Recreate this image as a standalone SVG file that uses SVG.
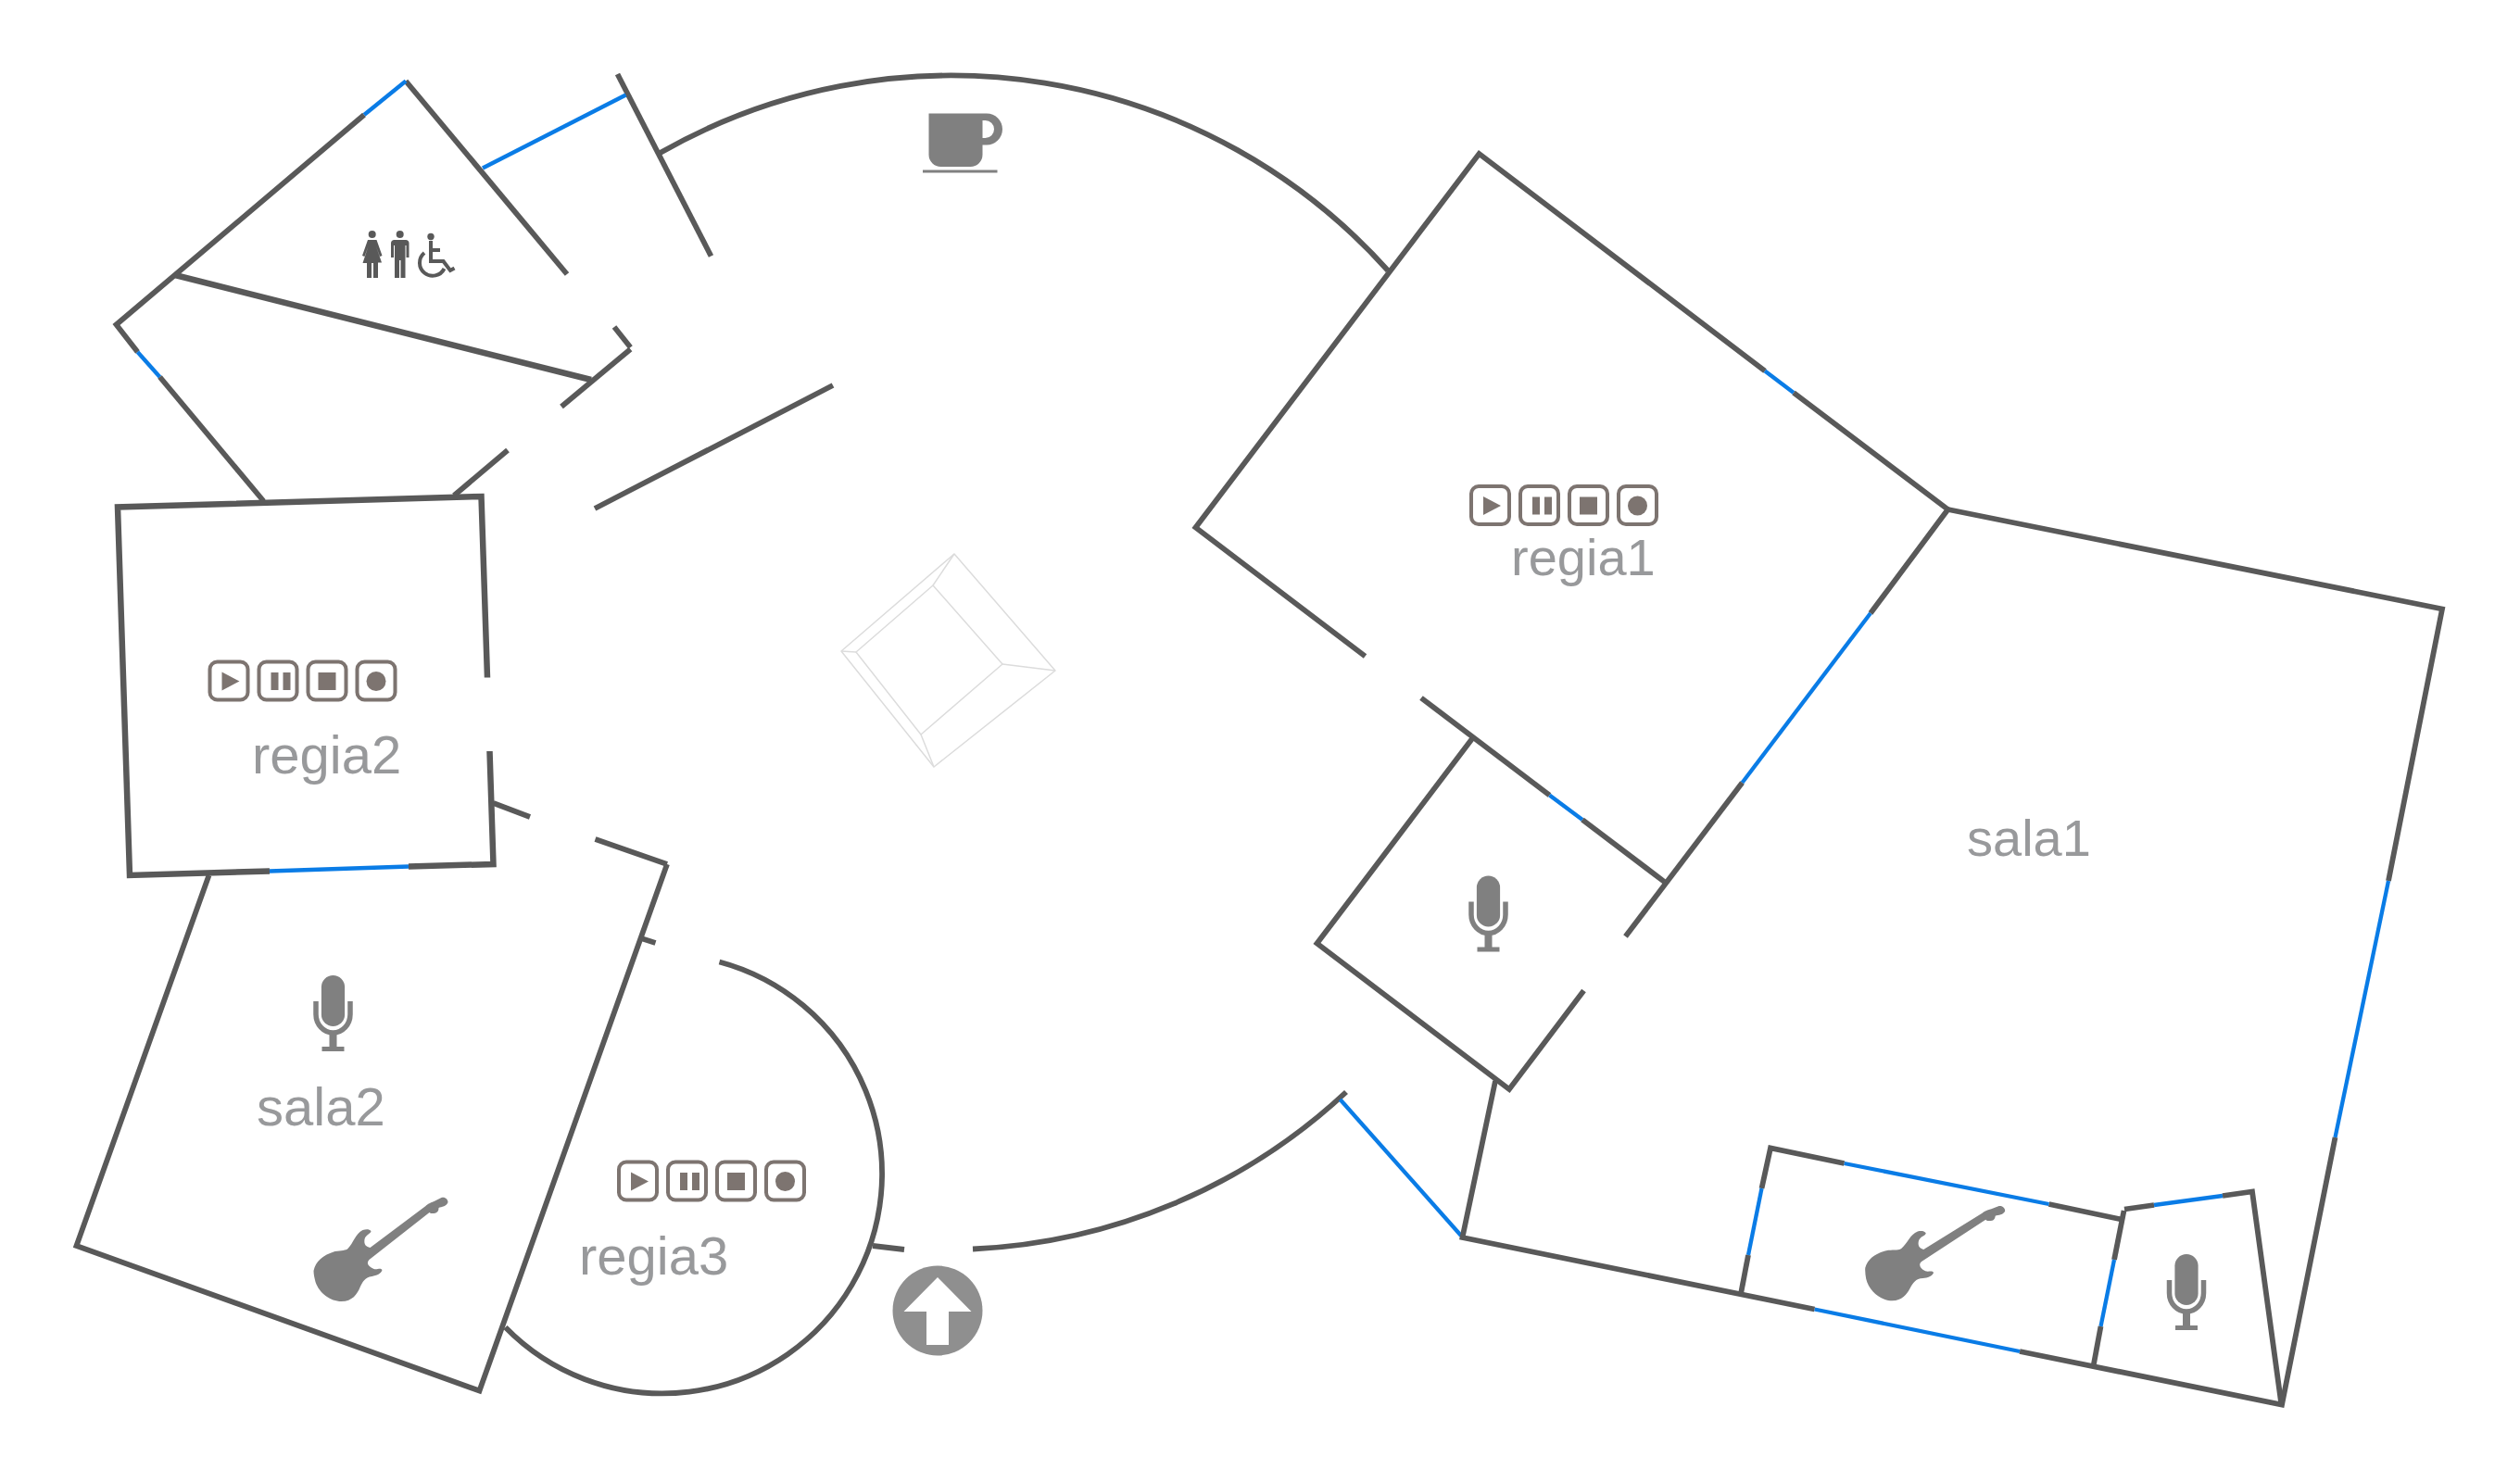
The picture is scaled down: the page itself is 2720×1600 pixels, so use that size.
<svg xmlns="http://www.w3.org/2000/svg" xmlns:xlink="http://www.w3.org/1999/xlink" width="2720" height="1600" viewBox="0 0 2720 1600">
<style>
.w{fill:none;stroke:#595959;stroke-width:5.800;stroke-linejoin:miter;stroke-linecap:butt}
.t{stroke-width:6.500}
.d{fill:none;stroke:#0a7ce6;stroke-width:4.300;stroke-linecap:butt}
.f{fill:none;stroke:#dcdcdc;stroke-width:1.500;stroke-linejoin:round}
.l{font-family:"Liberation Sans",Arial,sans-serif;font-size:58px;fill:#98999b}
.i{fill:#808080}
.p{fill:#595959}
</style>
<defs>
<g id="btns">
<g fill="#fff" stroke="#7d7470" stroke-width="4"><rect x="2" y="2" width="41" height="41" rx="8"/><rect x="55" y="2" width="41" height="41" rx="8"/><rect x="108" y="2" width="41" height="41" rx="8"/><rect x="161" y="2" width="41" height="41" rx="8"/></g>
<g fill="#7d7470"><path d="M15 13 L34 23 L15 33Z"/><rect x="68" y="13.500" width="8" height="19"/><rect x="81" y="13.500" width="8" height="19"/><rect x="119" y="13.500" width="19" height="19"/><circle cx="181.500" cy="23" r="10.500"/></g>
</g>
<g id="mic" class="i">
<rect x="-12.600" y="0" width="25.200" height="55" rx="12.600"/>
<path d="M-18.500 28V42a18.500 20 0 0 0 37 0V28" fill="none" stroke="#808080" stroke-width="5.500"/>
<rect x="-4" y="62" width="8" height="16"/><rect x="-12" y="77" width="24" height="5"/>
</g>
<path id="guitar" class="i" d="M40 100C42 90 50 83 63 79C70 78 75 78 77 76C83 70 85 60 93 56C97 55 100 55 102 57C102 60 96 61 95 66C94 72 97 74 101 75L161 30C163 28 165 27 170 25L178 21C182 20 185 23 185 26C184 30 178 31 175 32C175 36 173 38 168 38C167 38 166 38 165 37L100 88C97 91 98 95 105 98C109 99 112 96 114 99C113 103 108 105 103 106C95 107 93 112 90 118C87 125 82 133 70 133C58 133 46 124 42 112C41 108 40 104 40 100Z"/>
</defs>
<rect width="2720" height="1600" fill="#fff"/>

<g id="connectors">
<g id="fountain"><path class="f" d="M1030 598L1139 724L1008 828L908 703Z"/><path class="f" d="M1007 632L1082 717L994 793L924 704Z"/><path class="f" d="M1030 598L1007 632M1139 724L1082 717M1008 828L994 793M908 703L924 704"/></g>
<g id="lobby">
<path class="w" d="M712.500 165A633 633 0 0 1 1498 292"/>
<path class="w" d="M1453 1179A633 633 0 0 1 1050 1348.500"/>
<path class="w" d="M976 1349L942 1345"/>
<path class="w" d="M666.500 80L767.500 276.500"/>
<path class="w" d="M642 549L899 416"/>
<path class="w" d="M572 882L532.500 867"/>
<path class="w" d="M642.500 906L720 933"/>
<path class="w" d="M692 1013L707.500 1018"/>
<path class="d" d="M521 181.500L675.500 102.500"/>
<path class="d" d="M1446.500 1187L1577 1334"/>
</g>
<g id="toilets">
<path class="w" d="M438 87.500L612 296"/>
<path class="d" d="M393 124L438 87.500"/>
<path class="w" d="M393 124L125.500 350.500L148.500 380"/>
<path class="d" d="M148.500 380L172.500 407"/>
<path class="w" d="M172.500 407L284.500 541"/>
<path class="w t" d="M189 297L638 410"/>
<path class="w" d="M663 353L680.500 375"/>
<path class="w" d="M680.500 377L606 439"/>
<path class="w" d="M548 486L490 535"/>
</g>
<g id="regia2-walls">
<path class="w t" d="M526 731.500L519.500 536L127 547.500L140 945L291 940.500"/>
<path class="d" d="M291 940.500L441 935.500"/>
<path class="w t" d="M441 935.500L532.500 933L528.500 811"/>
</g>
<g id="sala2-walls">
<path class="w" d="M225.500 945L82.500 1345L517.500 1501.500L720 933"/>
</g>
<g id="regia3-walls">
<path class="w" d="M776.500 1038.500A237 237 0 1 1 545.500 1433"/>
</g>
<g id="regia1-walls">
<path class="w" d="M1473.500 708.500L1290.500 569.500L1596.500 166L1905 400.500"/>
<path class="d" d="M1905 400.500L1936 424"/>
<path class="w" d="M1936 424L2102.500 550L2019 662"/>
<path class="d" d="M2019 662L1880.500 845"/>
<path class="w" d="M1880.500 845L1754.500 1011"/>
</g>
<g id="mic-room-walls">
<path class="w" d="M1534 753.500L1672.500 858.500"/>
<path class="d" d="M1672.500 858.500L1708 885"/>
<path class="w" d="M1708 885L1796.500 952"/>
<path class="w" d="M1589 797.500L1421.500 1018.500L1629 1176L1709.500 1069.500"/>
</g>
<g id="sala1-walls">
<path class="w" d="M2102.500 550L2636 657.500L2578 951"/>
<path class="d" d="M2578 951L2520.500 1228"/>
<path class="w" d="M2520.500 1228L2463 1516.500L2180 1459"/>
<path class="d" d="M2180 1459L1958.500 1413.500"/>
<path class="w" d="M1958.500 1413.500L1578.500 1336L1614 1167"/>
<path class="w" d="M2292 1317L2211.500 1300"/>
<path class="d" d="M2211.500 1300L1990.500 1256"/>
<path class="w" d="M1990.500 1256L1911 1239.500L1901.500 1283"/>
<path class="d" d="M1901.500 1283L1887 1355"/>
<path class="w" d="M1887 1355L1879 1397"/>
<path class="w" d="M2292.500 1307L2282 1360"/>
<path class="d" d="M2282 1360L2267.500 1432"/>
<path class="w" d="M2267.500 1432L2259.500 1475"/>
<path class="w" d="M2293 1305.500L2325 1301"/>
<path class="d" d="M2325 1301L2399 1291"/>
<path class="w" d="M2399 1291L2431 1286.500L2462.500 1517"/>
</g>
</g>

<g id="cafe"><path class="i" fill-rule="evenodd" d="M1002.500 122.500H1065A17 17 0 0 1 1065 156.500H1060.500V167A13 13 0 0 1 1047.500 180H1015.500A13 13 0 0 1 1002.500 167ZM1060.500 130V149H1063.500A9.500 9.500 0 0 0 1063.500 130Z"/><rect class="i" x="996" y="183.500" width="80.500" height="3"/></g>

<g id="restroom" class="p">
<circle cx="401.700" cy="253" r="4"/><path d="M397 259H406.500L412.500 276L410 277L406 266L412 283.500H408V300H403V284H401V300H396V284H391.500L397.500 266L393.500 277L391 276Z"/>
<circle cx="431.700" cy="253" r="4"/><path d="M425.500 259H438C440 259 441.500 260.500 441.500 262.500V278H438.500V265H437.500V300H432.500V281H431V300H426V265H425V278H422V262.500C422 260.500 423.500 259 425.500 259Z"/>
<circle cx="465" cy="255.500" r="3.700"/>
<path d="M465 260V282H478.500L486 292L490.500 289.500M465 270H475" fill="none" stroke="#595959" stroke-width="4"/>
<path d="M458 273A14 14 0 1 0 479.500 290" fill="none" stroke="#595959" stroke-width="4"/>
</g>

<g id="stairs"><circle cx="1012" cy="1415" r="48.500" fill="#8f8f8f"/><path d="M1012 1379L1048.500 1416H1024V1452H1000V1416H975.500Z" fill="#fff"/></g>

<g id="regia1"><use xlink:href="#btns" href="#btns" x="1586" y="523"/><text class="l" style="font-size:56px" x="1631" y="621">regia1</text></g>
<g id="regia2"><use xlink:href="#btns" href="#btns" x="224.500" y="712.500"/><text class="l" x="272" y="835">regia2</text></g>
<g id="regia3"><use xlink:href="#btns" href="#btns" x="666" y="1252.500"/><text class="l" x="625" y="1376">regia3</text></g>
<g id="sala1"><text class="l" style="font-size:56px" x="2123" y="924">sala1</text></g>
<g id="sala2"><use xlink:href="#mic" href="#mic" x="359.500" y="1053"/><use xlink:href="#guitar" href="#guitar" transform="translate(298.500 1272)"/><text class="l" x="277" y="1215">sala2</text></g>
<g id="mic-room"><use xlink:href="#mic" href="#mic" x="1606.500" y="945.500"/></g>
<g id="sala1-booth-a"><use xlink:href="#guitar" href="#guitar" transform="translate(1975 1275) rotate(5 112 77)"/></g>
<g id="sala1-booth-b"><use xlink:href="#mic" href="#mic" x="2360" y="1354"/></g>
</svg>
